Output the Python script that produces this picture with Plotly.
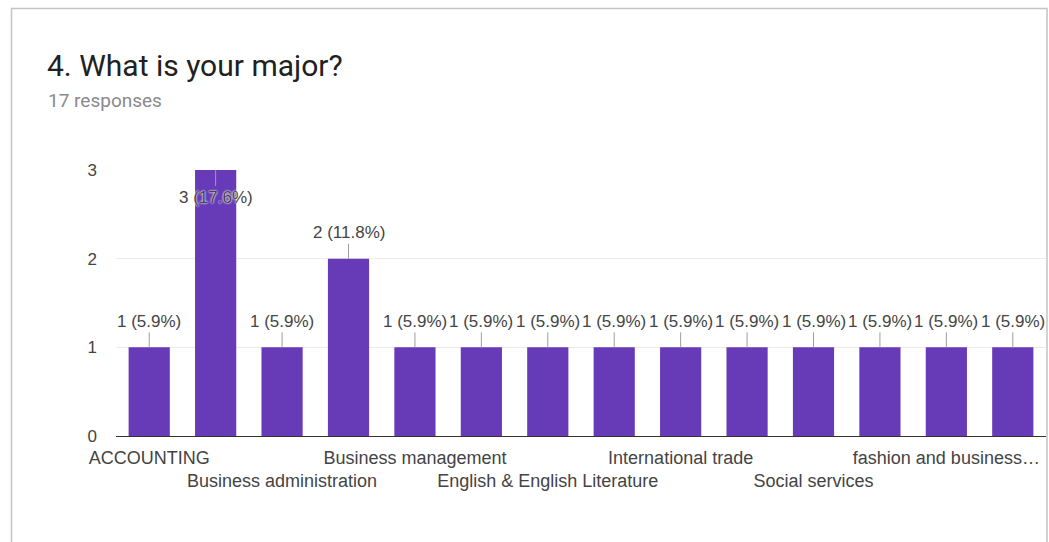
import plotly.graph_objects as go

# Responses per major (17 answers in total)
major_labels = [
    "ACCOUNTING", "", "Business administration", "", "Business management", "",
    "English & English Literature", "", "International trade", "", "Social services", "",
    "fashion and business…", "",
]
counts = [1, 3, 1, 2, 1, 1, 1, 1, 1, 1, 1, 1, 1, 1]
y_ticks = [0, 1, 2, 3]

total = sum(counts)
positions = list(range(len(counts)))

W, H = 1049, 542
L, R, T, B = 116, 3, 170, 106
plot_w, plot_h = W - L - R, H - T - B


def px_x(px):
    return (px - L) / plot_w


def px_y(py):
    return (H - B - py) / plot_h


BAR = "#673ab7"
TEXT = "#444444"
FONT = "Liberation Sans, Arial, sans-serif"

fig = go.Figure(
    go.Bar(
        x=positions,
        y=counts,
        marker=dict(color=BAR, line=dict(width=0)),
        hoverinfo="skip",
    )
)

# Visible category names alternate between two rows under the axis
tick_text = []
shown = 0
for name in major_labels:
    if name:
        tick_text.append(("<br>" if shown % 2 else "") + name)
        shown += 1
    else:
        tick_text.append("")

# Value labels with a short leader line to the top of each bar
for x, c in zip(positions, counts):
    inside = c == max(y_ticks)
    fig.add_annotation(
        x=x, y=c, xref="x", yref="y",
        text=f"{c} ({c / total * 100:.1f}%)",
        showarrow=True, arrowhead=0, arrowwidth=1, arrowcolor="#9e9e9e",
        standoff=0, ax=0, ay=27 if inside else -26,
        font=dict(family=FONT, size=17, color=TEXT,
                  shadow="0px 0px 2px white, 0px 0px 2px white"),
    )

# Card header
fig.add_annotation(
    x=px_x(45), y=px_y(65), xref="paper", yref="paper",
    xanchor="left", yanchor="middle", showarrow=False,
    text="4. What is your major?",
    font=dict(family="Roboto, sans-serif", size=30, color="#212121"),
)
fig.add_annotation(
    x=px_x(46), y=px_y(100), xref="paper", yref="paper",
    xanchor="left", yanchor="middle", showarrow=False,
    text="17 responses",
    font=dict(family="Roboto, sans-serif", size=19, color="#8a8a8a"),
)

# Card frame
fig.add_shape(
    type="rect", xref="paper", yref="paper",
    x0=px_x(11.5), x1=px_x(1047), y0=px_y(560), y1=px_y(8.5),
    line=dict(color="#c4c4c4", width=1.5), fillcolor="rgba(0,0,0,0)", layer="below",
)

fig.update_layout(
    width=W, height=H,
    margin=dict(l=L, r=R, t=T, b=B, pad=0),
    paper_bgcolor="white", plot_bgcolor="white",
    showlegend=False, bargap=0.38,
    font=dict(family=FONT, color=TEXT),
    xaxis=dict(
        range=[-0.5, len(counts) - 0.5],
        tickmode="array", tickvals=positions, ticktext=tick_text,
        tickangle=0,
        showgrid=False, zeroline=False, showline=True,
        linecolor="#333333", linewidth=1,
        ticks="", ticklabelstandoff=5,
        tickfont=dict(family=FONT, size=18, color=TEXT),
        automargin=False, fixedrange=True,
    ),
    yaxis=dict(
        range=[0, max(y_ticks)],
        tickmode="array", tickvals=y_ticks,
        showgrid=True, gridcolor="#ebebeb", gridwidth=1,
        zeroline=False, showline=False,
        ticks="", ticklabelstandoff=18,
        tickfont=dict(family=FONT, size=17, color=TEXT),
        automargin=False, fixedrange=True,
    ),
)

fig.write_html("out.html")
